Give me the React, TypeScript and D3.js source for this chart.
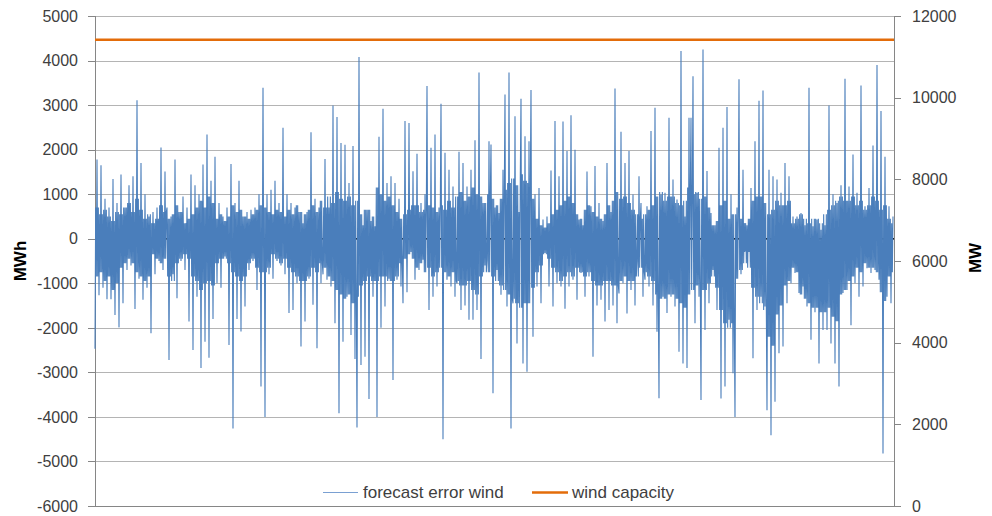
import React from "react";
import * as d3 from "d3";

// forecast error wind (MWh): spikes/excursions, left to right (one every ~2px)
const errorPart1 = [
  -2470, 1780, -1270, 1650, -1100, 900, -1360, 700, -1360, 1340,
  -1710, 800, -1990, 1440, -1450, 700, -700, 1200, -600, 1400,
  -1580, 3110, -900, 1700, -1370, 1000, -1100, 500, -2120, 600,
  -800, 700, -500, 2050, -700, 1510, 700, -2720, 500, -800,
  1780, -1335, 600, -500, 950, -700, 700, -1860, 1440, -2500,
  1200, -1300, 1000, -2900, 1665, -2310, 2340, -2670, 1300, -1800,
  1840, -1000, 800, -1100, 500, -400, 700, -2385, 1680, -4260,
  800, -1800, 1300, -2085, 500, -1520, 600, -700, 650, -500,
  700, -1150, 1000, -3320, 3390, -4000, 1000, -800, 1100, -900,
  1300, -500, 800, -600, 2490, -800, 1000, -1670,
];
const errorPart2 = [
  800, -1600, 700, -1000, 600, -2420, 350, -1860, 600, -900,
  2390, -1480, 900, -2460, 700, -1000, -800, 1790, -920, 700,
  -1070, 2990, -1900, 2730, -3920, 2150, -2310, 2110, -1300, 1250,
  -2160, 2080, -2700, -4240, 4080, -2835, 300, -2650, 650, -3600,
  400, -1300, 280, -4000, 2290, -2000, 2920, -1520, 1250, -900,
  1400, -3170, 1250, -920, 900, -1070, -1450, 2640, -1200, 2600,
  -300, 1515, -920, 1910, -700, 800, -470, 1000, 3430, -1600,
  2040, -1300, 2340, -1070, 700, 3030, -4500, 1930, -920, 1550,
  -1070, 1170, -1300, -1000, 1950, -1600, 1700, -1500, 1170, -1820,
  1550, -1820, 2210, -1600, 3730, -2700, 800, -600, -480, 2190,
];
const errorPart3 = [
  2115, -3470, 700, -700, 580, -1260, 1550, 3240, -1520, 3730,
  -4260, -1450, 2750, -2350, 600, 3140, -2800, 2300, -2985, 2190,
  3340, -2200, 1000, -1070, 1140, -1450, 430, -320, 500, -1070,
  1530, -1520, 2640, -1000, 1400, -1070, 2630, -1570, 1970, -1070,
  2770, -920, 2000, -1370, 430, -770, 300, -1300, 1510, -850,
  730, -2650, 1630, -1500, 800, -1370, 400, -1860, 1700, -1600,
  600, -1500, 3370, -1900, -1230, 2400, -1000, 1700, -1680, 1970,
  -1150, 990, -1500, -500, 1400, 800, -1300, -920, 730, -1070,
  2420, -1500, 2940, -2090, -3580, 990, -1300, 1030, -1670, 2715,
  -1300, 1330, -1520, 880, -2535, 4215, -2800, 500, -2900, 2715,
];
const errorPart4 = [
  2715, 3650, -1900, 1030, -1300, -3620, 4250, -2050, 1520, -1450,
  580, -700, 300, -1600, 2040, -3585, 2490, -3320, 2955, -1820,
  1000, -3020, -4000, 700, 3580, -800, 1550, -300, 300, -300,
  1140, -2685, 2190, -1600, 3100, -1300, 3330, -1520, -3850, 1550,
  -4410, 1400, -3660, 1330, -2570, 1030, -2420, 1700, -1450, 1400,
  -1000, 500, -770, 500, -1220, 580, -1070, 300, -1520, 3390,
  -2270, 280, -1650, 430, -2800, 200, -2050, 300, -2050, 2990,
  -2350, 1000, -2800, 800, -3320, 1200, -1220, 3590, -1150, 1170,
  -1940, 1890, -1000, 1030, -1300, 3440, -1070, 730, -660, 1140,
  -770, 2090, -700, 3900, -920, 2870, -4820, 1840, -1300, 730,
  -1450, 500,
];

// dense core of the same series (MWh): upper / lower reach of the solid band, one pair every ~4px
const bandHigh = [
  700, 550, 650, 500, 400, 600, 550, 700, 800, 600, 900, 650, 450, 550, 350, 450, 750, 600, 450, 550,
  750, 600, 350, 450, 550, 700, 850, 700, 950, 800, 450, 550, 400, 500, 750, 600, 650, 500, 450, 550,
  650, 750, 700, 600, 550, 650, 600, 500, 650, 550, 750, 600, 550, 650, 750, 600, 850, 700, 950, 800,
  1050, 900, 850, 950, 750, 850, 550, 650, 650, 500, 1150, 1000, 850, 950, 750, 600, 450, 550, 650, 750,
  750, 600, 650, 750, 700, 600, 750, 650, 850, 700, 950, 1050, 850, 950, 1150, 1000, 950, 800, 1000, 900,
  750, 900, 1100, 1250, 1350, 1200, 1450, 1300, 1250, 900, 450, 300, 250, 350, 550, 650, 750, 850, 950, 800,
  550, 450, 650, 750, 600, 500, 450, 550, 750, 850, 1050, 900, 950, 800, 650, 550, 450, 550, 650, 750,
  950, 1050, 850, 950, 950, 800, 750, 850, 1150, 1000, 1050, 900, 950, 700, 300, 400, 750, 850, 450, 550,
  550, 450, 350, 450, 850, 950, 950, 800, 550, 650, 850, 750, 750, 850, 350, 450, 550, 450, 350, 450,
  450, 350, 550, 650, 750, 850, 950, 850, 850, 950, 750, 850, 650, 750, 950, 850, 650, 750, 450, 350,
];
const bandLow = [
  -850, -750, -950, -850, -1150, -1000, -650, -550, -450, -550, -750, -850, -950, -850, -350, -450, -550, -450, -850, -950,
  -550, -450, -350, -450, -850, -950, -1150, -1000, -950, -1050, -550, -450, -450, -550, -750, -850, -950, -850, -550, -450,
  -650, -750, -750, -650, -350, -450, -550, -450, -650, -750, -850, -950, -950, -850, -650, -750, -550, -650, -850, -950,
  -1150, -1250, -1350, -1250, -1450, -1300, -1050, -950, -850, -950, -950, -850, -850, -950, -950, -850, -550, -450, -350, -450,
  -650, -550, -750, -650, -850, -750, -650, -750, -850, -750, -950, -1050, -1050, -950, -1150, -1250, -850, -750, -750, -850,
  -950, -1050, -1150, -1250, -1350, -1450, -1550, -1450, -1450, -1100, -750, -600, -350, -450, -650, -750, -950, -850, -750, -850,
  -650, -750, -850, -750, -950, -1050, -1050, -950, -950, -1050, -1050, -950, -850, -950, -950, -850, -650, -750, -850, -950,
  -1250, -1350, -1350, -1250, -1250, -1350, -1450, -1550, -1250, -1150, -1050, -1150, -1150, -1000, -850, -1100, -1600, -1900, -2000, -1900,
  -900, -700, -550, -650, -1100, -1300, -1450, -1600, -2200, -2400, -1700, -1500, -1050, -950, -650, -750, -1250, -1350, -1450, -1550,
  -1550, -1650, -1650, -1550, -1750, -1850, -1250, -1150, -950, -850, -650, -750, -550, -650, -650, -750, -1200, -1400, -850, -750,
];

// wind capacity (MW), flat across the year
const windCapacity = [11420, 11420];

const leftTicks = [-6000, -5000, -4000, -3000, -2000, -1000, 0, 1000, 2000, 3000, 4000, 5000];
const rightTicks = [0, 2000, 4000, 6000, 8000, 10000, 12000];

const W = 992;
const H = 516;
const PL = 95;
const PR = 894;
const PT = 16;
const PB = 506;
const FONT = "'Liberation Sans', Arial, sans-serif";

// series table: each excursion followed by a pass through the local dense band
function buildSeries(): number[] {
  const spikes = [...errorPart1, ...errorPart2, ...errorPart3, ...errorPart4];
  const perBand = spikes.length / bandHigh.length;
  const out: number[] = [];
  spikes.forEach((v, i) => {
    out.push(v);
    if (i < spikes.length - 1) {
      const b = Math.min(bandHigh.length - 1, Math.floor(i / perBand));
      if (v >= 0) {
        out.push(bandLow[b], bandHigh[b]);
      } else {
        out.push(bandHigh[b], bandLow[b]);
      }
    }
  });
  return out;
}

const forecastError = buildSeries();

export default function App() {
  const n = forecastError.length;
  const x = d3.scaleLinear().domain([0, n - 1]).range([PL, PR - 1]);
  const yL = d3.scaleLinear().domain([-6000, 5000]).range([PB, PT]);
  const yR = d3.scaleLinear().domain([0, 12000]).range([PB, PT]);

  const errLine = d3
    .line<number>()
    .x((_, i) => x(i))
    .y((d) => yL(d));

  const capX = d3.scaleLinear().domain([0, windCapacity.length - 1]).range([PL, PR]);
  const capLine = d3
    .line<number>()
    .x((_, i) => capX(i))
    .y((d) => yR(d));

  return (
    <svg
      width={W}
      height={H}
      style={{ position: "absolute", left: 0, top: 0, background: "#fff" }}
      fontFamily={FONT}
    >
      <rect x={0} y={0} width={W} height={H} fill="#ffffff" />
      {leftTicks
        .filter((t) => t !== -6000)
        .map((t) => (
          <line
            key={"g" + t}
            x1={PL}
            x2={PR}
            y1={Math.round(yL(t)) + 0.5}
            y2={Math.round(yL(t)) + 0.5}
            stroke="#b4b4b4"
            strokeWidth={1}
          />
        ))}
      <line x1={PL + 0.5} x2={PL + 0.5} y1={PT} y2={PB} stroke="#868686" strokeWidth={1} />
      {leftTicks.map((t) => (
        <g key={"lt" + t}>
          <line
            x1={PL - 7}
            x2={PL}
            y1={Math.round(yL(t)) + 0.5}
            y2={Math.round(yL(t)) + 0.5}
            stroke="#868686"
          />
          <text x={78} y={yL(t)} dy="0.36em" textAnchor="end" fontSize={16} fill="#404040">
            {t}
          </text>
        </g>
      ))}
      <line x1={PL} x2={PR} y1={PB + 0.5} y2={PB + 0.5} stroke="#868686" strokeWidth={1} />
      <line x1={PR + 0.5} x2={PR + 0.5} y1={PT} y2={PB} stroke="#868686" strokeWidth={1} />
      {rightTicks.map((t) => (
        <g key={"rt" + t}>
          <line
            x1={PR}
            x2={PR + 7}
            y1={Math.round(yR(t)) + 0.5}
            y2={Math.round(yR(t)) + 0.5}
            stroke="#868686"
          />
          <text x={912} y={yR(t)} dy="0.36em" textAnchor="start" fontSize={16} fill="#404040">
            {t}
          </text>
        </g>
      ))}
      <line x1={PL} x2={PR} y1={yL(0)} y2={yL(0)} stroke="#000000" strokeWidth={1.5} />
      <path d={errLine(forecastError) || ""} fill="none" stroke="#4a7ebb" strokeWidth={1.1} strokeLinejoin="miter" />
      <path d={capLine(windCapacity) || ""} fill="none" stroke="#e36c0a" strokeWidth={2.5} />
      <text transform="translate(26,261) rotate(-90)" textAnchor="middle" fontSize={17} fontWeight="bold" fill="#000">
        MWh
      </text>
      <text transform="translate(981,258) rotate(-90)" textAnchor="middle" fontSize={17} fontWeight="bold" fill="#000">
        MW
      </text>
      <line x1={323} x2={358} y1={492.5} y2={492.5} stroke="#7aa0d2" strokeWidth={1} />
      <text x={363} y={498} fontSize={17} fill="#404040">
        forecast error wind
      </text>
      <line x1={532} x2={568} y1={492.5} y2={492.5} stroke="#e36c0a" strokeWidth={2.5} />
      <text x={572} y={498} fontSize={17} fill="#404040">
        wind capacity
      </text>
    </svg>
  );
}
